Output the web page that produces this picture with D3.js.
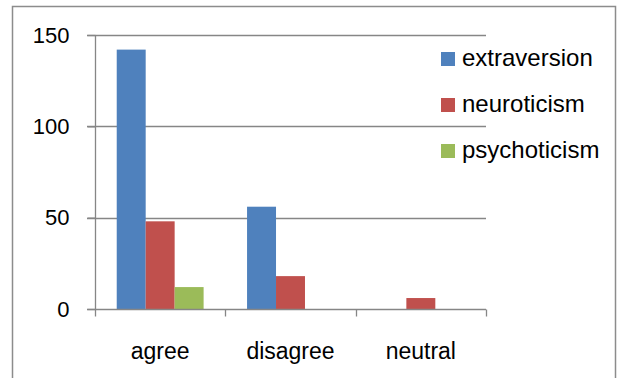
<!DOCTYPE html>
<html>
<head>
<meta charset="utf-8">
<script src="https://cdn.jsdelivr.net/npm/d3@7"></script>
<style>
  html, body { margin: 0; padding: 0; background: #fff; }
  svg { display: block; font-family: "Liberation Sans", Arial, sans-serif; }
</style>
</head>
<body>
<svg id="chart" width="618" height="378"></svg>
<script>
// Responses per category for each personality scale
const categories = ["agree", "disagree", "neutral"];
const seriesNames = ["extraversion", "neuroticism", "psychoticism"];
const extraversion = [142, 56, 0];
const neuroticism = [48, 18, 6];
const psychoticism = [12, 0, 0];
const yTicks = [0, 50, 100, 150];

const seriesValues = [extraversion, neuroticism, psychoticism];
const colors = ["#4F81BD", "#C0504D", "#9BBB59"];

const svg = d3.select("#chart");
const plotLeft = 95, plotRight = 486, plotTop = 35, plotBottom = 309;

// outer chart frame
svg.append("rect")
  .attr("x", 12.5).attr("y", 6.5)
  .attr("width", 603).attr("height", 400)
  .attr("fill", "none").attr("stroke", "#8c8c8c").attr("stroke-width", 1.5);

const x0 = d3.scaleBand().domain(categories).range([plotLeft, plotRight]).padding(0);
const x1 = d3.scaleBand().domain(seriesNames).range([0, x0.bandwidth()])
  .paddingInner(0).paddingOuter(0.75);
const y = d3.scaleLinear().domain([0, 150]).range([plotBottom, plotTop]);

// horizontal gridlines
svg.append("g").selectAll("line")
  .data(yTicks.filter(d => d > 0))
  .join("line")
  .attr("x1", plotLeft - 8).attr("x2", plotRight)
  .attr("y1", d => Math.round(y(d)) + 0.5).attr("y2", d => Math.round(y(d)) + 0.5)
  .attr("stroke", "#868686").attr("stroke-width", 1.3);

// bars
const groups = svg.append("g").selectAll("g")
  .data(categories)
  .join("g")
  .attr("transform", d => `translate(${x0(d)},0)`);

groups.selectAll("rect")
  .data((c, i) => seriesNames.map((s, j) => ({ s, j, v: seriesValues[j][i] })))
  .join("rect")
  .attr("x", d => x1(d.s))
  .attr("width", x1.bandwidth())
  .attr("y", d => y(d.v))
  .attr("height", d => y(0) - y(d.v))
  .attr("fill", d => colors[d.j]);

// y axis
const yAxis = svg.append("g")
  .attr("transform", `translate(${plotLeft + 0.5},0)`)
  .call(d3.axisLeft(y).tickValues(yTicks).tickSize(8).tickPadding(18));
yAxis.select(".domain").attr("stroke", "#868686").attr("stroke-width", 1.3)
  .attr("d", `M0,${plotTop}V${plotBottom}`);
yAxis.selectAll(".tick line").attr("stroke", "#868686").attr("stroke-width", 1.3);
yAxis.selectAll(".tick text").attr("font-size", 22).attr("fill", "#000")
  .attr("font-family", "Liberation Sans, Arial, sans-serif");

// x axis with ticks between categories
const xAxisG = svg.append("g").attr("transform", `translate(0,${Math.round(plotBottom) + 0.5})`);
xAxisG.append("line").attr("x1", plotLeft - 8).attr("x2", plotRight)
  .attr("stroke", "#868686").attr("stroke-width", 1.3);
const boundaries = categories.map(c => x0(c)).concat([x0(categories[categories.length - 1]) + x0.bandwidth()]);
xAxisG.selectAll("line.tick").data(boundaries).join("line")
  .attr("class", "tick")
  .attr("x1", d => Math.round(d) + 0.5).attr("x2", d => Math.round(d) + 0.5)
  .attr("y1", 0).attr("y2", 7)
  .attr("stroke", "#868686").attr("stroke-width", 1.3);
xAxisG.selectAll("text").data(categories).join("text")
  .attr("x", d => x0(d) + x0.bandwidth() / 2)
  .attr("y", 49)
  .attr("text-anchor", "middle")
  .attr("font-size", 23).attr("fill", "#000")
  .text(d => d);

// legend
const legend = svg.append("g").selectAll("g")
  .data(seriesNames)
  .join("g")
  .attr("transform", (d, i) => `translate(441,${52 + i * 46})`);
legend.append("rect").attr("width", 14).attr("height", 14)
  .attr("fill", (d, i) => colors[i]);
legend.append("text").attr("x", 21).attr("y", 14)
  .attr("font-size", 24).attr("fill", "#000")
  .text(d => d);
</script>
</body>
</html>
